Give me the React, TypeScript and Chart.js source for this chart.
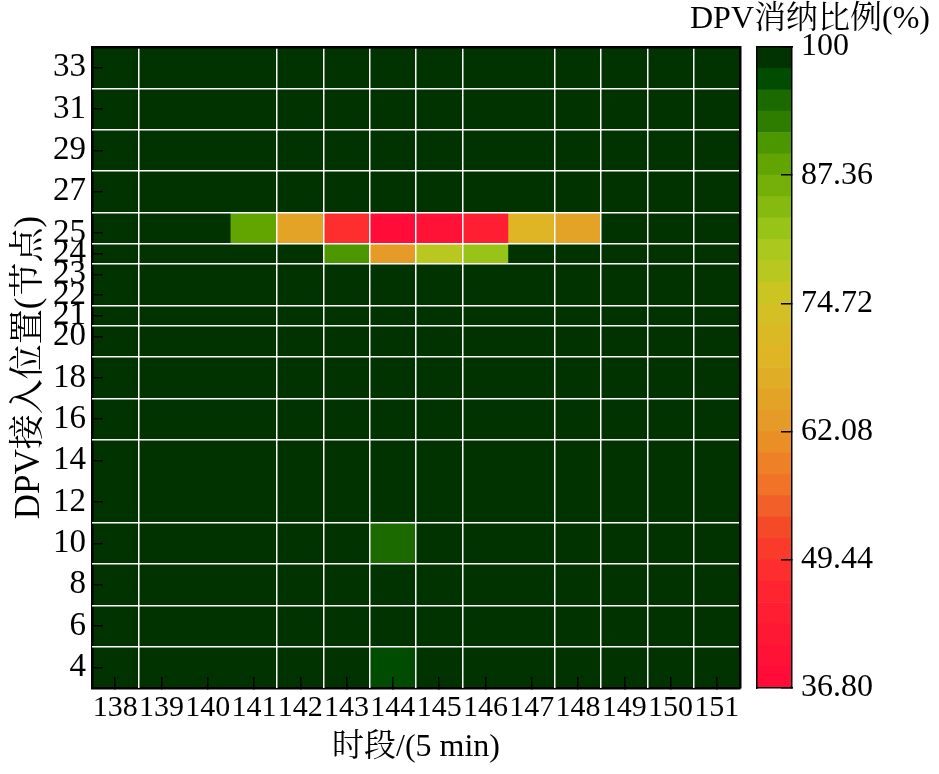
import React, { useEffect, useRef } from 'react';
import { Chart, registerables } from 'chart.js';

Chart.register(...registerables);

// ---------------- data ----------------
const periods = ['138', '139', '140', '141', '142', '143', '144', '145', '146', '147', '148', '149', '150', '151'];
const nodes = [4, 6, 8, 10, 12, 14, 16, 18, 20, 21, 22, 23, 24, 25, 27, 29, 31, 33];

// DPV absorption ratio (%) for each node row, ordered like `periods`
const rowFull = [100, 100, 100, 100, 100, 100, 100, 100, 100, 100, 100, 100, 100, 100];
const row4 = [100, 100, 100, 100, 100, 100, 96.8, 100, 100, 100, 100, 100, 100, 100];
const row10 = [100, 100, 100, 100, 100, 100, 94.7, 100, 100, 100, 100, 100, 100, 100];
const row24 = [100, 100, 100, 100, 100, 90.5, 63.1, 77.9, 82.1, 100, 100, 100, 100, 100];
const row25 = [100, 100, 100, 88.4, 65.2, 48.4, 36.8, 40.0, 44.2, 69.5, 65.0, 100, 100, 100];
const ratioByNode = [
  row4, rowFull, rowFull, row10, rowFull, rowFull, rowFull, rowFull, rowFull,
  rowFull, rowFull, rowFull, row24, row25, rowFull, rowFull, rowFull, rowFull,
];

// colour bar
const cbarMin = 36.8;
const cbarMax = 100;
const cbarTicks = [36.8, 49.44, 62.08, 74.72, 87.36, 100];
const cbarTickLabels = ['36.80', '49.44', '62.08', '74.72', '87.36', '100'];
// 30 discrete colours, lowest value first
const cbarColors = [
  '#FF0C38', '#FF1236', '#FF1834', '#FF1E32', '#FF2530', '#FF2E2E', '#FA3A2B', '#F54A28', '#F25F28', '#F07328',
  '#EE8127', '#EA8E26', '#E69A27', '#E3A327', '#E0AD27', '#DFB526', '#DAB925', '#D4BF24', '#CBC522', '#B9C820',
  '#ABC81E', '#98C418', '#86BA10', '#74B008', '#62A400', '#4C9600', '#2E7D00', '#1B6A00', '#004C00', '#003300',
];

// white mesh lines are drawn after these periods / nodes
const meshAfterPeriods = ['138', '141', '142', '143', '144', '145', '147', '148', '149', '150'];
const meshAfterNodes = [4, 6, 8, 10, 14, 16, 18, 20, 21, 23, 24, 25, 27, 29, 31];

// ---------------- helpers ----------------
const SERIF = "'Liberation Serif', 'Times New Roman', 'Noto Serif CJK SC', 'Noto Sans CJK SC', serif";
const BLACK = '#000';

const nodeEdges: number[] = (() => {
  const e: number[] = [nodes[0] - (nodes[1] - nodes[0]) / 2];
  for (let i = 1; i < nodes.length; i++) e.push((nodes[i - 1] + nodes[i]) / 2);
  const n = nodes.length;
  e.push(nodes[n - 1] + (nodes[n - 1] - nodes[n - 2]) / 2);
  return e;
})();
const yMin = nodeEdges[0];
const yMax = nodeEdges[nodeEdges.length - 1];
const bandStep = (cbarMax - cbarMin) / cbarColors.length;

function colorOf(v: number): string {
  let i = Math.floor((v - cbarMin) / bandStep);
  if (i < 0) i = 0;
  if (i > cbarColors.length - 1) i = cbarColors.length - 1;
  return cbarColors[i];
}

const gridX = meshAfterPeriods.map((p) => periods.indexOf(p) + 0.5);
const gridY = meshAfterNodes.map((n) => {
  const i = nodes.indexOf(n);
  return (nodes[i] + nodes[i + 1]) / 2;
});

const plotBg = {
  id: 'plotBg',
  beforeDatasetsDraw(chart: any) {
    const { ctx, chartArea: a } = chart;
    ctx.save();
    ctx.fillStyle = colorOf(cbarMax);
    ctx.fillRect(a.left, a.top, a.right - a.left, a.bottom - a.top);
    ctx.restore();
  },
};

export default function App() {
  const mainRef = useRef<HTMLCanvasElement>(null);
  const cbRef = useRef<HTMLCanvasElement>(null);

  useEffect(() => {
    Chart.defaults.font.family = SERIF;
    Chart.defaults.color = BLACK;

    const datasets = nodes.map((n, r) => ({
      label: String(n),
      data: periods.map(() => [nodeEdges[r], nodeEdges[r + 1]] as [number, number]),
      backgroundColor: ratioByNode[r].map((v) => colorOf(v)),
      borderWidth: 0,
      grouped: false,
      barPercentage: 1,
      categoryPercentage: 1,
    }));

    const main = new Chart(mainRef.current as HTMLCanvasElement, {
      type: 'bar',
      data: { labels: periods, datasets: datasets as any },
      plugins: [plotBg],
      options: {
        responsive: false,
        animation: false,
        layout: { padding: { top: 47, right: 20, bottom: 0, left: 0 } },
        plugins: { legend: { display: false }, tooltip: { enabled: false } },
        scales: {
          x: {
            type: 'category',
            position: 'bottom',
            offset: true,
            grid: { offset: false, drawOnChartArea: false, drawTicks: true, tickLength: -11, color: BLACK, lineWidth: 1.5, z: 1 },
            border: { display: true, color: BLACK, width: 2.5, z: 1 },
            ticks: { autoSkip: false, maxRotation: 0, minRotation: 0, padding: 13, color: BLACK, font: { family: SERIF, size: 30 } },
            title: { display: true, text: '时段/(5 min)', color: BLACK, font: { family: SERIF, size: 32 }, padding: { top: 0, bottom: 7 } },
            afterFit: (s: any) => { s.height = 86; },
          },
          xMesh: {
            type: 'linear',
            position: 'top',
            offset: false,
            min: -0.5,
            max: periods.length - 0.5,
            afterBuildTicks: (s: any) => { s.ticks = gridX.map((v) => ({ value: v })); },
            grid: { offset: false, color: '#fff', lineWidth: 1.5, drawTicks: false, z: 1 },
            border: { display: true, color: BLACK, width: 2.5, z: 1 },
            ticks: { display: false },
            afterFit: (s: any) => { s.height = 0; },
          },
          y: {
            type: 'linear',
            position: 'left',
            min: yMin,
            max: yMax,
            afterBuildTicks: (s: any) => { s.ticks = nodes.map((v) => ({ value: v })); },
            grid: { drawOnChartArea: false, drawTicks: true, tickLength: -11, color: BLACK, lineWidth: 1.5, z: 1 },
            border: { display: true, color: BLACK, width: 2.5, z: 1 },
            ticks: { autoSkip: false, padding: 17, color: BLACK, font: { family: SERIF, size: 33 } },
            title: { display: true, text: 'DPV接入位置(节点)', color: BLACK, font: { family: SERIF, size: 35 }, padding: { top: 9, bottom: 0 } },
            afterFit: (s: any) => { s.width = 92; },
          },
          yMesh: {
            type: 'linear',
            position: 'right',
            offset: false,
            min: yMin,
            max: yMax,
            afterBuildTicks: (s: any) => { s.ticks = gridY.map((v) => ({ value: v })); },
            grid: { offset: false, color: '#fff', lineWidth: 1.5, drawTicks: false, z: 1 },
            border: { display: true, color: BLACK, width: 2.5, z: 1 },
            ticks: { display: false },
            afterFit: (s: any) => { s.width = 0; },
          },
        } as any,
      },
    });

    const cbDatasets = cbarColors.map((c, i) => ({
      data: [[cbarMin + i * bandStep, cbarMin + (i + 1) * bandStep] as [number, number]],
      backgroundColor: c,
      borderWidth: 0,
      grouped: false,
      barPercentage: 1,
      categoryPercentage: 1,
    }));

    const cbar = new Chart(cbRef.current as HTMLCanvasElement, {
      type: 'bar',
      data: { labels: [''], datasets: cbDatasets as any },
      options: {
        responsive: false,
        animation: false,
        layout: { padding: { top: 0, right: 9, bottom: 0, left: 0 } },
        plugins: {
          legend: { display: false },
          tooltip: { enabled: false },
          title: {
            display: true,
            text: 'DPV消纳比例(%)',
            align: 'end',
            color: BLACK,
            font: { family: SERIF, size: 32, weight: 'normal' },
            padding: { top: 0, bottom: 8.6 },
          },
        },
        scales: {
          x: {
            type: 'category',
            position: 'bottom',
            offset: true,
            grid: { drawOnChartArea: false, drawTicks: false },
            ticks: { display: false },
            border: { display: true, color: BLACK, width: 1.5, z: 1 },
            afterFit: (s: any) => { s.height = 86; },
          },
          xTop: {
            type: 'linear',
            position: 'top',
            offset: false,
            min: 0,
            max: 1,
            grid: { offset: false, drawOnChartArea: false, drawTicks: false },
            ticks: { display: false },
            border: { display: true, color: BLACK, width: 1.5, z: 1 },
            afterFit: (s: any) => { s.height = 0; },
          },
          yLeft: {
            type: 'linear',
            position: 'left',
            min: cbarMin,
            max: cbarMax,
            grid: { drawOnChartArea: false, drawTicks: false },
            ticks: { display: false },
            border: { display: true, color: BLACK, width: 1.5, z: 1 },
            afterFit: (s: any) => { s.width = 97; },
          },
          y: {
            type: 'linear',
            position: 'right',
            min: cbarMin,
            max: cbarMax,
            afterBuildTicks: (s: any) => { s.ticks = cbarTicks.map((v) => ({ value: v })); },
            grid: { drawOnChartArea: false, drawTicks: true, tickLength: -11, color: BLACK, lineWidth: 1.5, z: 1 },
            border: { display: true, color: BLACK, width: 1.5, z: 1 },
            ticks: {
              autoSkip: false,
              padding: 20,
              color: BLACK,
              font: { family: SERIF, size: 32 },
              callback: (_v: any, i: number) => cbarTickLabels[i],
            },
            afterFit: (s: any) => { s.width = 138; },
          },
        } as any,
      },
    });

    return () => {
      main.destroy();
      cbar.destroy();
    };
  }, []);

  return (
    <div style={{ position: 'absolute', left: 0, top: 0, width: 939, height: 774, background: '#fff' }}>
      <canvas ref={mainRef} width={760} height={774} style={{ position: 'absolute', left: 0, top: 0 }} />
      <canvas ref={cbRef} width={279} height={774} style={{ position: 'absolute', left: 660, top: 0 }} />
    </div>
  );
}
